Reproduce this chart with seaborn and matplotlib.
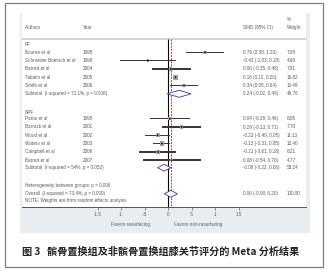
import matplotlib
matplotlib.use("Agg")
import matplotlib.pyplot as plt
from matplotlib.patches import Rectangle, Polygon
from matplotlib.transforms import blended_transform_factory
import seaborn as sns
import pandas as pd

# study level data
pf_authors = ["Bourne et al", "Schroeder Boersch et al", "Barrett et al", "Tabatin et al", "Smith et al"]
pf_years = [1995, 1998, 2004, 2005, 2006]
pf_smd = [0.79, -0.43, 0.06, 0.16, 0.34]
pf_lo = [0.38, -1.03, -0.35, 0.12, 0.05]
pf_hi = [1.20, 0.18, 0.48, 0.20, 0.64]
pf_w = [7.95, 4.69, 7.81, 15.82, 10.49]

npf_authors = ["Partio et al", "Barrack et al", "Wood et al", "Waters et al", "Campbell et al", "Barrett et al"]
npf_years = [1995, 2001, 2002, 2003, 2006, 2007]
npf_smd = [0.04, 0.29, -0.22, -0.13, -0.21, 0.08]
npf_lo = [-0.38, -0.13, -0.49, -0.31, -0.61, -0.54]
npf_hi = [0.46, 0.71, 0.05, 0.05, 0.18, 0.70]
npf_w = [8.05, 7.70, 11.13, 13.40, 8.21, 4.77]

# pooled estimates: (smd, lo, hi, weight, label)
pf_sub = (0.24, -0.02, 0.49, 46.76, "Subtotal  (I-squared = 71.1%, p = 0.008)")
npf_sub = (-0.08, -0.22, 0.06, 53.24, "Subtotal  (I-squared = 54%, p = 0.052)")
overall = (0.06, -0.08, 0.20, 100.00, "Overall  (I-squared = 73.4%, p = 0.000)")
het_text = "Heterogeneity between groups: p = 0.006"
note_text = "NOTE: Weights are from random effects analysis"

xticks = [-1.5, -1, -0.5, 0, 0.5, 1, 1.5]
xtick_labels = ["-1.5", "-1", "-.5", "0", ".5", "1", "1.5"]
caption = "图 3   髌骨置换组及非髌骨置换组膝关节评分的 Meta 分析结果"

##################################################################################
# build table of rows
##################################################################################
pf_rows = list(range(1, 6))
npf_rows = list(range(9, 15))
studies = pd.DataFrame({
    "author": pf_authors + npf_authors,
    "year": pf_years + npf_years,
    "smd": pf_smd + npf_smd,
    "lo": pf_lo + npf_lo,
    "hi": pf_hi + npf_hi,
    "w": pf_w + npf_w,
    "row": pf_rows + npf_rows,
})

W, H = 329, 273
sns.set_style("white")
plt.rcParams["font.family"] = ["Liberation Sans", "DejaVu Sans"]
fig = plt.figure(figsize=(W / 100, H / 100), dpi=100)

# outer frame and graph region (behind the axes)
fig.patches.append(Rectangle((5 / W, 1 - 267 / H), 318 / W, 264 / H, transform=fig.transFigure,
                             fill=False, edgecolor="#7d7d7d", lw=0.9, zorder=-2))
fig.patches.append(Rectangle((20 / W, 1 - 233 / H), 290 / W, 220 / H, transform=fig.transFigure,
                             facecolor="#e8edf1", edgecolor="none", zorder=-1))

# pixel -> data mapping: x0 at 168px, 47px per unit, rows every 8.3px from y=44
x_left, x_right = (22 - 168) / 47, (306 - 168) / 47
r_top, r_bot = (13 - 44) / 8.3, (207 - 44) / 8.3
ax = fig.add_axes([22 / W, 1 - 207 / H, (306 - 22) / W, (207 - 13) / H])
ax.set_facecolor("white")

fs = 3.3
tc = "#5a5a5a"
c_auth, c_year, c_ci, c_w = -3.04, -1.81, 1.60, 2.53
lh = 0.17  # line thickness in row units (about 1.4 px)

# confidence intervals as thin bars
for _, r in studies.iterrows():
    ax.add_patch(Rectangle((r["lo"], r["row"] - lh / 2), r["hi"] - r["lo"], lh,
                           facecolor="#3a3a3a", edgecolor="none", zorder=2))

# weight boxes and point estimates
sns.scatterplot(data=studies, x="smd", y="row", size="w", sizes=(0, 11), size_norm=(0, 15.82),
                marker="s", color="#a0a0a0", edgecolor="none", legend=False, ax=ax, zorder=3)
sns.scatterplot(data=studies, x="smd", y="row", marker="o", s=1.4, color="black",
                edgecolor="none", legend=False, ax=ax, zorder=4)

ax.set_xlim(x_left, x_right)
ax.set_ylim(r_bot, r_top)

# header
ax.text(c_auth, -1.93, "Authors", fontsize=fs, color=tc, va="center")
ax.text(c_year, -1.93, "Year", fontsize=fs, color=tc, va="center")
ax.text(c_ci, -1.93, "SMD (95% CI)", fontsize=fs, color=tc, va="center")
ax.text(c_w, -3.0, "%", fontsize=fs, color=tc, va="center")
ax.text(c_w, -1.93, "Weight", fontsize=fs, color=tc, va="center")
ax.add_patch(Rectangle((x_left, -0.6 - lh / 2), x_right - x_left, lh,
                       facecolor="#d4d4d4", edgecolor="none", zorder=1))

# reference lines
ax.vlines(0, -0.6, r_bot, colors="black", linewidths=0.8, zorder=1)
ax.vlines(overall[0], -0.6, r_bot, colors="#c03a3a", linewidths=0.7,
          linestyles=(0, (2, 1.2)), zorder=1)

for _, r in studies.iterrows():
    ax.text(c_auth, r["row"], r["author"], fontsize=fs, color=tc, va="center")
    ax.text(c_year, r["row"], str(r["year"]), fontsize=fs, color=tc, va="center")
    ax.text(c_ci, r["row"], f"{r['smd']:.2f} ({r['lo']:.2f}, {r['hi']:.2f})",
            fontsize=fs, color=tc, va="center")
    ax.text(c_w, r["row"], f"{r['w']:.2f}", fontsize=fs, color=tc, va="center")

ax.text(c_auth, 0, "PF", fontsize=fs, color=tc, va="center")
ax.text(c_auth, 8.2, "NPF", fontsize=fs, color=tc, va="center")

# pooled diamonds
for est, row in [(pf_sub, 6), (npf_sub, 14.9), (overall, 18.05)]:
    m, lo, hi, w, lab = est
    dia = Polygon([(lo, row), (m, row - 0.42), (hi, row), (m, row + 0.42)], closed=True,
                  facecolor="white", edgecolor="#3a3aa0", lw=0.6, zorder=3)
    ax.add_patch(dia)
    ax.text(c_auth, row, lab, fontsize=fs, color=tc, va="center")
    ax.text(c_ci, row, f"{m:.2f} ({lo:.2f}, {hi:.2f})", fontsize=fs, color=tc, va="center")
    ax.text(c_w, row, f"{w:.2f}", fontsize=fs, color=tc, va="center")

ax.text(c_auth, 17.0, het_text, fontsize=fs, color=tc, va="center")
ax.text(c_auth, 18.9, note_text, fontsize=fs, color=tc, va="center")

# axis
for side in ["top", "left", "right"]:
    ax.spines[side].set_visible(False)
ax.spines["bottom"].set_color("#555555")
ax.spines["bottom"].set_linewidth(0.7)
ax.set_xticks(xticks)
ax.set_xticklabels(xtick_labels)
ax.set_yticks([])
ax.tick_params(axis="x", length=2, width=0.5, pad=1.5, labelsize=fs, colors=tc, bottom=True)
ax.set_xlabel("")
ax.set_ylabel("")

trans = blended_transform_factory(ax.transData, ax.transAxes)
ax.text(-0.8, -0.088, "Favors resurfacing", fontsize=fs, color=tc, ha="center", va="center",
        transform=trans)
ax.text(0.64, -0.088, "Favors non-resurfacing", fontsize=fs, color=tc, ha="center", va="center",
        transform=trans)

# caption
fig.text(22 / W, 1 - 252 / H, caption, fontsize=7.3, fontweight="bold", color="#222222",
         va="center", ha="left", family=["Noto Sans CJK SC", "DejaVu Sans"])

fig.savefig("out.png", dpi=100)
